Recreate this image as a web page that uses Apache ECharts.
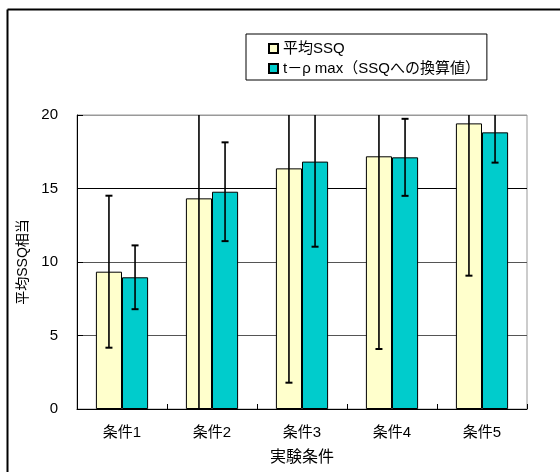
<!DOCTYPE html>
<html>
<head>
<meta charset="utf-8">
<script src="https://cdn.jsdelivr.net/npm/echarts@6/dist/echarts.min.js"></script>
<style>
  html, body { margin: 0; padding: 0; background: #fff; }
  #chart { width: 560px; height: 472px; }
</style>
</head>
<body>
<div id="chart"></div>
<script>
// Experimental conditions on the category axis
const categories = ['条件1', '条件2', '条件3', '条件4', '条件5'];
// Mean SSQ and its error (±)
const meanSSQ = [9.34, 14.33, 16.37, 17.19, 19.43];
const meanSSQErr = [5.17, 15.0, 14.58, 13.11, 10.36];
// t-ρmax converted to SSQ and its error (±)
const tRhoSSQ = [8.96, 14.78, 16.83, 17.12, 18.82];
const tRhoSSQErr = [2.17, 3.36, 5.79, 2.62, 2.06];
// Value axis ticks
const yTicks = [0, 5, 10, 15, 20];

const seriesNames = ['平均SSQ', 't－ρ max（SSQへの換算値）'];
const FONT = "'Liberation Sans', 'Noto Sans CJK JP', sans-serif";
const CAT_GAP = 0.42;

function errorData(values, errs) {
  return values.map((v, i) => [i, v - errs[i], v + errs[i]]);
}

// Error bar drawn at the centre of one bar of a two-bar group
function errorBarRenderer(side) {
  return function (params, api) {
    const idx = api.value(0);
    const low = api.coord([idx, api.value(1)]);
    const high = api.coord([idx, api.value(2)]);
    const band = api.size([1, 0])[0];
    const barW = band * (1 - CAT_GAP) / 2;
    const x = low[0] + side * barW / 2;
    const capHalf = 3.5;
    const style = { stroke: '#000', lineWidth: 1.6 };
    const capStyle = { stroke: '#000', lineWidth: 2 };
    return {
      type: 'group',
      children: [
        { type: 'line', shape: { x1: x, y1: high[1], x2: x, y2: low[1] }, style: style },
        { type: 'line', shape: { x1: x - capHalf, y1: high[1], x2: x + capHalf, y2: high[1] }, style: capStyle },
        { type: 'line', shape: { x1: x - capHalf, y1: low[1], x2: x + capHalf, y2: low[1] }, style: capStyle }
      ]
    };
  };
}

const chart = echarts.init(document.getElementById('chart'), null, { renderer: 'canvas' });

chart.setOption({
  animation: false,
  backgroundColor: '#fff',
  textStyle: { fontFamily: FONT },
  graphic: [
    // outer chart frame (top and left edges)
    { type: 'line', shape: { x1: 7.5, y1: 9.5, x2: 560, y2: 9.5 }, style: { stroke: '#000', lineWidth: 2 }, z: 100 },
    { type: 'line', shape: { x1: 7.5, y1: 9.5, x2: 7.5, y2: 472 }, style: { stroke: '#000', lineWidth: 2 }, z: 100 }
  ],
  legend: {
    orient: 'vertical',
    left: 246,
    top: 34,
    data: seriesNames,
    icon: 'rect',
    itemWidth: 9,
    itemHeight: 9,
    itemGap: 5,
    padding: [7, 7, 4, 22],
    borderColor: '#000',
    borderWidth: 1,
    backgroundColor: '#fff',
    textStyle: { fontFamily: FONT, fontSize: 15, color: '#000' }
  },
  grid: {
    left: 77,
    right: 33,
    top: 115,
    bottom: 63,
    containLabel: false,
    show: true,
    borderColor: '#999',
    borderWidth: 1
  },
  xAxis: {
    type: 'category',
    data: categories,
    name: '実験条件',
    nameLocation: 'middle',
    nameGap: 41,
    nameTextStyle: { fontFamily: FONT, fontSize: 16, color: '#000' },
    axisLine: { lineStyle: { color: '#000', width: 1 } },
    axisTick: { show: true, inside: true, length: 5, lineStyle: { color: '#000' } },
    axisLabel: { fontFamily: FONT, fontSize: 15, color: '#000', margin: 16 },
    splitLine: { show: false }
  },
  yAxis: {
    type: 'value',
    min: yTicks[0],
    max: yTicks[yTicks.length - 1],
    interval: 5,
    name: '平均SSQ相当',
    nameLocation: 'middle',
    nameRotate: 90,
    nameGap: 46,
    nameTextStyle: { fontFamily: FONT, fontSize: 14, color: '#000' },
    axisLine: { show: true, lineStyle: { color: '#000', width: 1 } },
    axisTick: { show: true, inside: true, length: 6, lineStyle: { color: '#000' } },
    axisLabel: { fontFamily: FONT, fontSize: 15, color: '#000', margin: 19, padding: [5, 0, 0, 0] },
    splitLine: { show: true, lineStyle: { color: ['#000', '#555', '#555', '#000', '#999'], width: 1 } }
  },
  series: [
    {
      name: seriesNames[0],
      type: 'bar',
      data: meanSSQ,
      barGap: '0%',
      barCategoryGap: (CAT_GAP * 100) + '%',
      itemStyle: { color: '#FFFFCC', borderColor: '#000', borderWidth: 1 }
    },
    {
      name: seriesNames[1],
      type: 'bar',
      data: tRhoSSQ,
      barGap: '0%',
      barCategoryGap: (CAT_GAP * 100) + '%',
      itemStyle: { color: '#00CCCC', borderColor: '#000', borderWidth: 1 }
    },
    {
      type: 'custom',
      renderItem: errorBarRenderer(-1),
      data: errorData(meanSSQ, meanSSQErr),
      encode: { x: 0, y: [1, 2] },
      clip: true,
      z: 10,
      silent: true
    },
    {
      type: 'custom',
      renderItem: errorBarRenderer(1),
      data: errorData(tRhoSSQ, tRhoSSQErr),
      encode: { x: 0, y: [1, 2] },
      clip: true,
      z: 10,
      silent: true
    }
  ]
});
</script>
</body>
</html>
